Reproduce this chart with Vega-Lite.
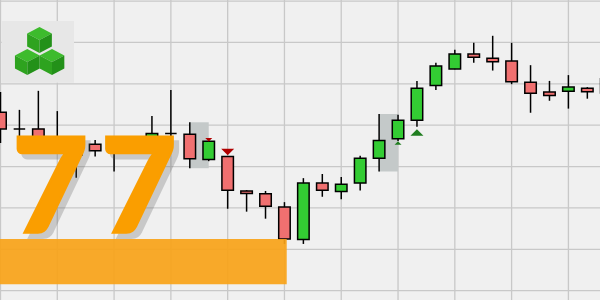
{
  "$schema": "https://vega.github.io/schema/vega-lite/v6.json",
  "width": 600,
  "height": 300,
  "padding": 0,
  "autosize": {"type": "none"},
  "background": "#f0f0f0",
  "config": {"view": {"stroke": null}, "scale": {"continuousPadding": 0}},
  "datasets": {
    "gridX": [{"i": 0}, {"i": 3}, {"i": 6}, {"i": 9}, {"i": 12}, {"i": 15}, {"i": 18}, {"i": 21}, {"i": 24}, {"i": 27}, {"i": 30}],
    "gridY": [{"p": 100}, {"p": 110}, {"p": 120}, {"p": 130}, {"p": 140}, {"p": 150}, {"p": 160}, {"p": 170}],
    "candles": [
      {"i": 0, "open": 143.1, "high": 148.0, "low": 135.7, "close": 139.1},
      {"i": 1, "open": 139.1, "high": 143.7, "low": 134.0, "close": 139.1},
      {"i": 2, "open": 139.1, "high": 148.3, "low": 133.5, "close": 135.9},
      {"i": 3, "open": 134.3, "high": 143.4, "low": 133.6, "close": 135.9},
      {"i": 4, "open": 135.2, "high": 136.4, "low": 127.3, "close": 132.8},
      {"i": 5, "open": 135.4, "high": 136.4, "low": 132.4, "close": 133.8},
      {"i": 6, "open": 133.6, "high": 136.4, "low": 128.8, "close": 135.7},
      {"i": 7, "open": 135.9, "high": 136.7, "low": 134.0, "close": 134.5},
      {"i": 8, "open": 134.3, "high": 142.2, "low": 133.6, "close": 138.0},
      {"i": 9, "open": 138.0, "high": 148.5, "low": 134.3, "close": 138.0},
      {"i": 10, "open": 137.8, "high": 140.7, "low": 129.6, "close": 131.9},
      {"i": 11, "open": 131.7, "high": 136.3, "low": 131.3, "close": 136.1},
      {"i": 12, "open": 132.4, "high": 132.4, "low": 119.8, "close": 124.3},
      {"i": 13, "open": 124.1, "high": 124.3, "low": 119.1, "close": 123.5},
      {"i": 14, "open": 123.4, "high": 124.1, "low": 117.4, "close": 120.4},
      {"i": 15, "open": 120.2, "high": 121.4, "low": 111.3, "close": 112.5},
      {"i": 16, "open": 112.4, "high": 127.2, "low": 111.3, "close": 126.0},
      {"i": 17, "open": 126.0, "high": 128.2, "low": 122.7, "close": 124.3},
      {"i": 18, "open": 124.0, "high": 127.5, "low": 122.1, "close": 125.7},
      {"i": 19, "open": 126.0, "high": 132.6, "low": 124.2, "close": 132.0},
      {"i": 20, "open": 132.0, "high": 142.7, "low": 128.8, "close": 136.3},
      {"i": 21, "open": 136.7, "high": 142.5, "low": 136.2, "close": 141.2},
      {"i": 22, "open": 141.2, "high": 150.7, "low": 139.6, "close": 148.9},
      {"i": 23, "open": 149.6, "high": 155.1, "low": 148.5, "close": 154.3},
      {"i": 24, "open": 153.6, "high": 158.2, "low": 153.5, "close": 157.2},
      {"i": 25, "open": 157.2, "high": 159.9, "low": 155.1, "close": 156.4},
      {"i": 26, "open": 156.2, "high": 161.6, "low": 153.2, "close": 155.3},
      {"i": 27, "open": 155.5, "high": 159.9, "low": 149.9, "close": 150.5},
      {"i": 28, "open": 150.4, "high": 154.5, "low": 143.0, "close": 147.7},
      {"i": 29, "open": 148.0, "high": 150.7, "low": 145.9, "close": 147.2},
      {"i": 30, "open": 148.2, "high": 152.1, "low": 144.0, "close": 149.2},
      {"i": 31, "open": 148.9, "high": 149.2, "low": 146.4, "close": 148.1},
      {"i": 32, "open": 147.8, "high": 152.0, "low": 146.5, "close": 151.2}
    ],
    "insideBars": [
      {"start": 10, "end": 11, "high": 140.7, "low": 129.6},
      {"start": 20, "end": 21, "high": 142.7, "low": 128.8}
    ],
    "signals": [
      {"i": 11, "price": 136.5, "dir": "down", "strength": 1},
      {"i": 12, "price": 133.5, "dir": "down", "strength": 2},
      {"i": 21, "price": 135.7, "dir": "up", "strength": 1},
      {"i": 22, "price": 138.2, "dir": "up", "strength": 2}
    ],
    "logoBox": [{"x": 0.063, "x2": 3.883, "y": 165.18, "y2": 150.27}],
    "cubes": [
      {"x": 2.06, "y": 160.58},
      {"x": 1.416, "y": 155.27},
      {"x": 2.72, "y": 155.27}
    ],
    "label": [
      {"x": 0.62, "y": 114.26, "text": "7"},
      {"x": 5.3, "y": 114.26, "text": "7"}
    ],
    "band": [{"x": -0.03, "x2": 15.12, "y": 112.49, "y2": 101.55}]
  },
  "layer": [
    {
      "data": {"name": "gridX"},
      "mark": {"type": "rule", "color": "#c8c8c8", "strokeWidth": 1.3},
      "encoding": {
        "x": {"field": "i", "type": "quantitative", "axis": null,
              "scale": {"domain": [-0.0264, 31.669], "nice": false, "zero": false, "padding": 0}}
      }
    },
    {
      "data": {"name": "gridY"},
      "mark": {"type": "rule", "color": "#c8c8c8", "strokeWidth": 1.3},
      "encoding": {
        "y": {"field": "p", "type": "quantitative", "axis": null,
              "scale": {"domain": [97.75, 170.25], "nice": false, "zero": false, "padding": 0}}
      }
    },
    {
      "data": {"name": "insideBars"},
      "mark": {"type": "rect", "fill": "#c4c9c9", "clip": true},
      "encoding": {
        "x": {"field": "start", "type": "quantitative", "axis": null},
        "x2": {"field": "end"},
        "y": {"field": "high", "type": "quantitative", "axis": null},
        "y2": {"field": "low"}
      }
    },
    {
      "data": {"name": "candles"},
      "mark": {"type": "rule", "color": "#000000", "strokeWidth": 1.5, "clip": true},
      "encoding": {
        "x": {"field": "i", "type": "quantitative", "axis": null},
        "y": {"field": "low", "type": "quantitative", "axis": null},
        "y2": {"field": "high"}
      }
    },
    {
      "data": {"name": "candles"},
      "mark": {"type": "bar", "size": 11.5, "stroke": "#000000", "strokeWidth": 1.5, "clip": true},
      "encoding": {
        "x": {"field": "i", "type": "quantitative", "axis": null, "scale": {"padding": 0}},
        "y": {"field": "open", "type": "quantitative", "axis": null},
        "y2": {"field": "close"},
        "fill": {"condition": {"test": "datum.close >= datum.open", "value": "#33cc33"}, "value": "#f07070"}
      }
    },
    {
      "data": {"name": "signals"},
      "mark": {"type": "point", "filled": true, "opacity": 1, "strokeWidth": 0, "clip": true},
      "encoding": {
        "x": {"field": "i", "type": "quantitative", "axis": null},
        "y": {"field": "price", "type": "quantitative", "axis": null},
        "shape": {"field": "dir", "type": "nominal", "legend": null,
                  "scale": {"domain": ["down", "up"], "range": ["M-1,-0.5L1,-0.5L0,0.5Z", "M0,-0.5L1,0.5L-1,0.5Z"]}},
        "size": {"field": "strength", "type": "quantitative", "legend": null,
                 "scale": {"domain": [1, 2], "range": [49, 169], "zero": false}},
        "fill": {"condition": {"test": "datum.dir === 'down'", "value": "#b00000"}, "value": "#1f7d1f"}
      }
    },
    {
      "data": {"name": "logoBox"},
      "mark": {"type": "rect", "fill": "#e7e7e7"},
      "encoding": {
        "x": {"field": "x", "type": "quantitative", "axis": null},
        "x2": {"field": "x2"},
        "y": {"field": "y", "type": "quantitative", "axis": null},
        "y2": {"field": "y2"}
      }
    },
    {
      "data": {"name": "cubes"},
      "mark": {"type": "point", "filled": true, "opacity": 1, "strokeWidth": 0, "size": 676,
               "shape": "M0,-1L0.95,-0.5L0,0L-0.95,-0.5Z", "fill": "#3dbb2d"},
      "encoding": {
        "x": {"field": "x", "type": "quantitative", "axis": null},
        "y": {"field": "y", "type": "quantitative", "axis": null}
      }
    },
    {
      "data": {"name": "cubes"},
      "mark": {"type": "point", "filled": true, "opacity": 1, "strokeWidth": 0, "size": 676,
               "shape": "M-0.95,-0.5L0,0L0,1L-0.95,0.5Z", "fill": "#2ea31f"},
      "encoding": {
        "x": {"field": "x", "type": "quantitative", "axis": null},
        "y": {"field": "y", "type": "quantitative", "axis": null}
      }
    },
    {
      "data": {"name": "cubes"},
      "mark": {"type": "point", "filled": true, "opacity": 1, "strokeWidth": 0, "size": 676,
               "shape": "M0,0L0.95,-0.5L0.95,0.5L0,1Z", "fill": "#239119"},
      "encoding": {
        "x": {"field": "x", "type": "quantitative", "axis": null},
        "y": {"field": "y", "type": "quantitative", "axis": null}
      }
    },
    {
      "data": {"name": "label"},
      "mark": {"type": "text", "font": "Lato", "fontWeight": 900,
               "fontSize": 131, "align": "left", "baseline": "alphabetic", "dx": 5, "dy": 5,
               "fill": "#555555", "opacity": 0.25, "stroke": "#555555", "strokeWidth": 3},
      "encoding": {
        "x": {"field": "x", "type": "quantitative", "axis": null},
        "y": {"field": "y", "type": "quantitative", "axis": null},
        "text": {"field": "text"}
      }
    },
    {
      "data": {"name": "label"},
      "mark": {"type": "text", "font": "Lato", "fontWeight": 900,
               "fontSize": 131, "align": "left", "baseline": "alphabetic",
               "fill": "#fa9e00", "stroke": "#fa9e00", "strokeWidth": 2.5},
      "encoding": {
        "x": {"field": "x", "type": "quantitative", "axis": null},
        "y": {"field": "y", "type": "quantitative", "axis": null},
        "text": {"field": "text"}
      }
    },
    {
      "data": {"name": "band"},
      "mark": {"type": "rect", "fill": "#f8a318", "opacity": 0.92, "clip": true},
      "encoding": {
        "x": {"field": "x", "type": "quantitative", "axis": null},
        "x2": {"field": "x2"},
        "y": {"field": "y", "type": "quantitative", "axis": null},
        "y2": {"field": "y2"}
      }
    }
  ]
}
